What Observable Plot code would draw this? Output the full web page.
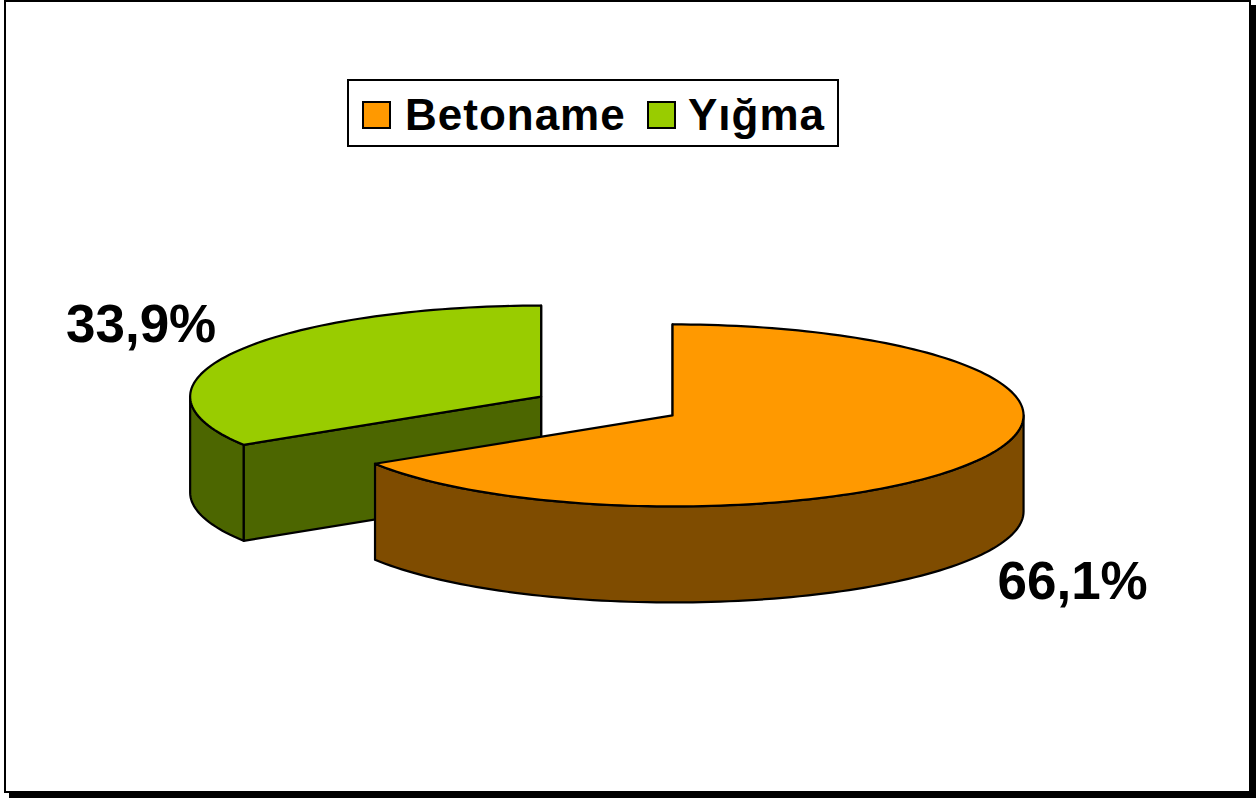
<!DOCTYPE html>
<html>
<head>
<meta charset="utf-8">
<script src="https://cdn.jsdelivr.net/npm/d3@7"></script>
<script src="https://cdn.jsdelivr.net/npm/@observablehq/plot@0.6"></script>
<style>
  body { margin: 0; background: #fff; font-family: "Liberation Sans", Arial, sans-serif; }
  #frame { position: absolute; left: 4px; top: 0; width: 1247px; height: 793px; box-sizing: border-box;
           border: 2px solid #000; box-shadow: 5px 5px 0 #000; background: #fff; }
  #chart { position: absolute; left: 0; top: 0; }
  #legend { position: absolute; left: 347px; top: 79px; width: 492px; height: 68px; box-sizing: border-box;
            border: 2px solid #000; background: #fff; }
  .sw { position: absolute; top: 20px; width: 29px; height: 28px; box-sizing: border-box; border: 2px solid #000; }
  .lt { position: absolute; top: 12px; font-weight: bold; font-size: 44px; line-height: 44px; letter-spacing: 1px;
        color: #000; white-space: nowrap; }
</style>
</head>
<body>
<div id="frame"></div>
<div id="chart"></div>
<div id="legend"></div>
<script>
// ---- data ----
const categories = ["Betoname", "Yığma"];
const values = [66.1, 33.9];
const labels = ["66,1%", "33,9%"];
const topColors = ["#FF9900", "#99CC00"];
const sideColors = ["#7F4C00", "#4C6600"];

// ---- layout constants (pixels) ----
const W = 1256, H = 798;
const R = 351;            // pie radius in px (x direction)
const CX = 606.35, CY = 405.5; // centre of the (un-exploded) pie top face
const tilt = 91 / R;      // vertical squash of the ellipse
const depth = 96 / R;     // thickness of the pie
const explode = 0.214;    // explosion, fraction of radius
const labelDX = 93 / R, labelDY = 27 / R;

// ---- slices ----
const total = d3.sum(values);
let acc = 0;
const slices = categories.map((c, i) => {
  const a0 = acc / total * 360; acc += values[i]; const a1 = acc / total * 360;
  return {c, i, a0, a1, mid: (a0 + a1) / 2};
});
const rad = d => d * Math.PI / 180;
function pt(s, ang, z) {
  const ox = explode * Math.sin(rad(s.mid)), oy = explode * Math.cos(rad(s.mid)) * tilt;
  if (ang === null) return [ox, oy + z];
  return [ox + Math.sin(rad(ang)), oy + Math.cos(rad(ang)) * tilt + z];
}
function arc(s, from, to, z) {
  const n = Math.max(2, Math.ceil(Math.abs(to - from) / 1.5));
  return d3.range(n + 1).map(k => pt(s, from + (to - from) * k / n, z));
}

// faces in painter's order (back slice first)
const faces = [];
const order = slices.slice().sort((a, b) => Math.cos(rad(b.mid)) - Math.cos(rad(a.mid)));
for (const s of order) {
  const side = `${s.c}-side`, top = `${s.c}-top`;
  // radial faces
  for (const [ang, normal] of [[s.a0, s.a0 - 90], [s.a1, s.a1 + 90]]) {
    if (Math.cos(rad(normal)) < 1e-6) {
      faces.push({key: side, pts: [pt(s, null, 0), pt(s, ang, 0), pt(s, ang, -depth), pt(s, null, -depth)]});
    }
  }
  // outer curved side (front half only)
  const s0 = Math.max(s.a0, 90), e0 = Math.min(s.a1, 270);
  if (e0 > s0) faces.push({key: side, pts: [...arc(s, s0, e0, 0), ...arc(s, e0, s0, -depth)]});
  // top face
  faces.push({key: top, pts: [pt(s, null, 0), ...arc(s, s.a0, s.a1, 0)]});
}
const rows = faces.flatMap((f, id) => [...f.pts, f.pts[0]].map(([x, y]) => ({id, key: f.key, x, y})));

const colorDomain = categories.flatMap(c => [`${c}-top`, `${c}-side`]);
const colorRange = categories.flatMap((c, i) => [topColors[i], sideColors[i]]);

const labelPos = slices.map(s => {
  const front = Math.cos(rad(s.mid)) < 0;
  const [x, y] = pt(s, s.mid, front ? -depth : 0);
  return {x: x + Math.sign(Math.sin(rad(s.mid))) * labelDX,
          y: y + Math.sign(Math.cos(rad(s.mid))) * labelDY,
          text: labels[s.i]};
});

const chart = Plot.plot({
  width: W, height: H,
  marginTop: 0, marginRight: 0, marginBottom: 0, marginLeft: 0,
  x: {domain: [-CX / R, (W - CX) / R], axis: null},
  y: {domain: [-(H - CY) / R, CY / R], axis: null},
  color: {domain: colorDomain, range: colorRange},
  style: {background: "transparent", overflow: "visible"},
  marks: [
    Plot.line(rows, {x: "x", y: "y", z: "id", fill: "key", stroke: "#000", strokeWidth: 2.2, strokeLinejoin: "round", curve: "linear"}),
    Plot.text(labelPos, {x: "x", y: "y", text: "text", fontSize: 53, fontWeight: "bold",
      fontFamily: "'Liberation Sans', Arial, sans-serif", fill: "#000"})
  ]
});
document.getElementById("chart").appendChild(chart);

// ---- legend ----
const legend = document.getElementById("legend");
const lpos = [{sw: 13, tx: 56}, {sw: 298, tx: 339}];
categories.forEach((c, i) => {
  const sw = document.createElement("div");
  sw.className = "sw"; sw.style.left = lpos[i].sw + "px"; sw.style.background = topColors[i];
  const t = document.createElement("div");
  t.className = "lt"; t.style.left = lpos[i].tx + "px"; t.textContent = c;
  legend.appendChild(sw); legend.appendChild(t);
});
</script>
</body>
</html>
